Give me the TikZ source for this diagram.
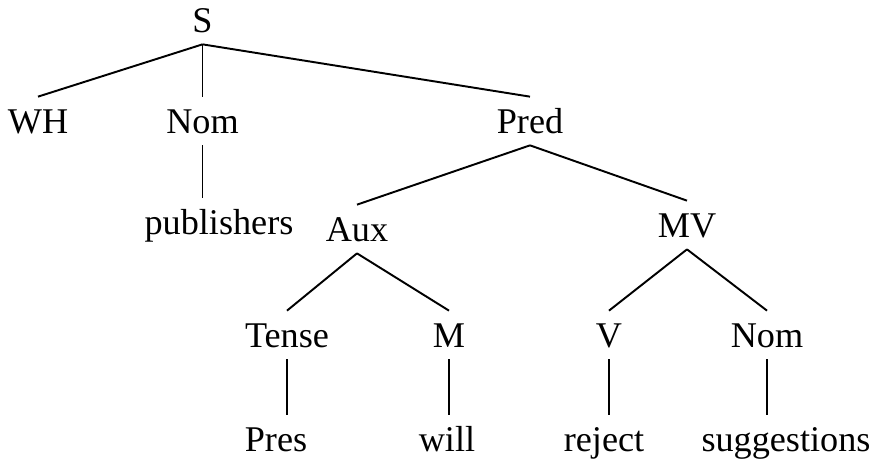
\documentclass[tikz,border=0pt]{standalone}
\usepackage{fontspec}
\setmainfont{Liberation Serif}
\usepackage{tikz}
\tikzset{
  cat/.style={anchor=base, font=\fontsize{20.6}{24}\selectfont,
              inner xsep=2pt, inner ysep=0.24cm, text height=0.48cm, text depth=0pt},
  word/.style={cat},
  branch/.style={draw=black, line width=1.1pt},
}

\begin{document}
\begin{tikzpicture}
  \useasboundingbox (0,0) rectangle (17.54,-9.18);
  % categories, one row per level
  \node[cat] (s)     at (4.05,-0.64)  {S};
  \node[cat] (wh)    at (0.76,-2.66)  {WH};
  \node[cat] (nom)   at (4.05,-2.66)  {Nom};
  \node[cat] (pred)  at (10.60,-2.66) {Pred};
  \node[word] (pub)  at (4.38,-4.68)  {publishers};
  \node[cat] (aux)   at (7.14,-4.82)  {Aux};
  \node[cat] (mv)    at (13.74,-4.74) {MV};
  \node[cat] (tense) at (5.74,-6.94)  {Tense};
  \node[cat] (m)     at (8.98,-6.94)  {M};
  \node[cat] (v)     at (12.18,-6.94) {V};
  \node[cat] (nomb)  at (15.34,-6.94) {Nom};
  % terminal words
  \node[word] (pres)   at (5.52,-9.03)  {Pres};
  \node[word] (will)   at (8.94,-9.03)  {will};
  \node[word] (reject) at (12.08,-9.03) {reject};
  \node[word] (sugg)   at (15.72,-9.03) {suggestions};
  % branches
  \foreach \p/\c in {s/wh, s/nom, s/pred, pred/aux, pred/mv, aux/tense, aux/m, mv/v, mv/nomb}
    \draw[branch] (\p.south) -- (\c.north);
  \foreach \p/\c in {nom/pub, tense/pres, m/will, v/reject, nomb/sugg}
    \draw[branch] (\p.south) -- (\p.south |- \c.north);
\end{tikzpicture}
\end{document}
